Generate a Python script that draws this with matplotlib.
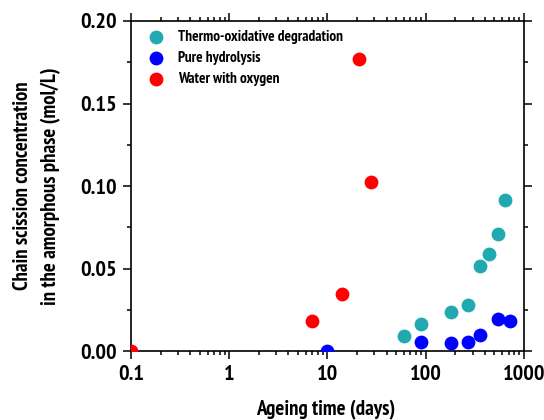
import matplotlib
matplotlib.use('Agg')
import matplotlib.pyplot as plt
from matplotlib.ticker import FixedLocator, LogLocator, NullFormatter, FormatStrFormatter

plt.rcParams['font.family'] = ['PT Sans Narrow', 'DejaVu Sans']
plt.rcParams['font.weight'] = 'bold'
plt.rcParams['axes.labelweight'] = 'bold'

# Data (ageing time in days, concentration in mol/L)
thermo_t = [60, 90, 182, 270, 360, 445, 540, 640]
thermo_c = [0.0093, 0.0164, 0.0237, 0.0282, 0.0514, 0.0587, 0.0708, 0.0915]

hydro_t = [10, 90, 180, 270, 360, 540, 720]
hydro_c = [0.0, 0.0057, 0.0049, 0.0055, 0.0097, 0.0192, 0.0184]

water_t = [0.1, 7, 14, 21, 28]
water_c = [0.0, 0.018, 0.0345, 0.177, 0.1024]

xticks = [0.1, 1, 10, 100, 1000]
xlabels = ['0.1', '1', '10', '100', '1000']

fig = plt.figure(figsize=(5.44, 4.2), dpi=100)
ax = fig.add_axes([0.241, 0.164, 0.722, 0.786])

ax.scatter(thermo_t, thermo_c, s=80, color='#21A9B0', label='Thermo-oxidative degradation', zorder=3)
ax.scatter(hydro_t, hydro_c, s=80, color='#0000FF', label='Pure hydrolysis', zorder=3)
ax.scatter(water_t, water_c, s=80, color='#FF0000', label='Water with oxygen', zorder=3)

ax.set_xscale('log')
ax.set_xlim(0.1, 1000)
ax.set_ylim(0, 0.2)
ax.set_xticks(xticks)
ax.set_xticklabels(xlabels)
ax.xaxis.set_minor_locator(LogLocator(base=10, subs=range(2, 10)))
ax.xaxis.set_minor_formatter(NullFormatter())
ax.set_yticks([0, 0.05, 0.10, 0.15, 0.20])
ax.yaxis.set_major_formatter(FormatStrFormatter('%.2f'))
ax.yaxis.set_minor_locator(FixedLocator([0.025, 0.075, 0.125, 0.175]))

for sp in ax.spines.values():
    sp.set_linewidth(1.2)
ax.tick_params(which='both', direction='out', top=True, right=True, width=1.1,
               labelsize=16)
ax.tick_params(which='major', length=6, pad=4)
ax.tick_params(which='minor', length=3)

# axis titles placed like the original
fig.text(326 / 544, 1 - 410 / 420, 'Ageing time (days)', fontsize=15,
         fontweight='bold', ha='center', va='center')
fig.text(37 / 544, 1 - 186 / 420, 'Chain scission concentration\nin the amorphous phase (mol/L)',
         fontsize=15, fontweight='bold', ha='center', va='center', rotation=90,
         multialignment='center', linespacing=1.6)

ax.legend(loc='upper left', bbox_to_anchor=(0.01, 1.0), frameon=False, fontsize=11,
          handletextpad=0.6, borderaxespad=0.2, labelspacing=0.45, scatterpoints=1,
          handlelength=1.6)

fig.savefig('out.png', dpi=100)
